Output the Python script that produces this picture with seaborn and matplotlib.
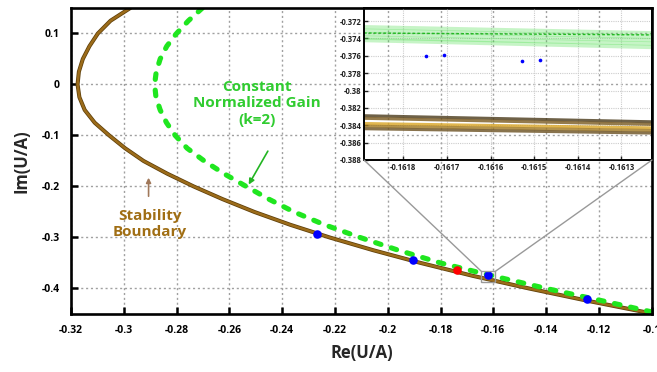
import matplotlib
matplotlib.use('Agg')
import matplotlib.pyplot as plt
import matplotlib.patheffects as pe
from matplotlib.patches import Rectangle, ConnectionPatch
import seaborn as sns

# stability boundary
boundary_im = [0.150, 0.125, 0.100, 0.075, 0.050, 0.025, 0.000, -0.025, -0.050, -0.075,
               -0.100, -0.125, -0.150, -0.175, -0.200, -0.225, -0.250, -0.275, -0.300,
               -0.325, -0.350, -0.375, -0.400, -0.425, -0.449]
boundary_re = [-0.2975, -0.3050, -0.3098, -0.3130, -0.3155, -0.3170, -0.3175, -0.3168,
               -0.3148, -0.3110, -0.3055, -0.2995, -0.2925, -0.2835, -0.2735, -0.2625,
               -0.2505, -0.2370, -0.2220, -0.2055, -0.1875, -0.1680, -0.1465, -0.1235,
               -0.1000]

# constant normalized gain curve, k=2
gain_im = [0.150, 0.125, 0.100, 0.075, 0.050, 0.025, 0.000, -0.025, -0.050, -0.075,
           -0.100, -0.125, -0.150, -0.175, -0.200, -0.225, -0.250, -0.275, -0.300,
           -0.325, -0.350, -0.375, -0.400, -0.425, -0.446]
gain_re = [-0.2702, -0.2755, -0.2800, -0.2837, -0.2862, -0.2877, -0.2883, -0.2878,
           -0.2862, -0.2838, -0.2805, -0.2760, -0.2695, -0.2620, -0.2536, -0.2450,
           -0.2355, -0.2240, -0.2105, -0.1960, -0.1800, -0.1605, -0.1400, -0.1180,
           -0.1000]

blue_re = [-0.2268, -0.1906, -0.1619, -0.1245]
blue_im = [-0.294, -0.345, -0.3745, -0.420]
red_re = [-0.1736]
red_im = [-0.363]

# zoomed view
inset_re = [-0.16189, -0.16123]
inset_green_im = [[-0.3727, -0.3734], [-0.3731, -0.3738], [-0.3735, -0.3742],
                  [-0.3739, -0.3746], [-0.3742, -0.3750]]
inset_green_dash_im = [-0.37338, -0.3736]
inset_brown_im = [[-0.3829, -0.3836], [-0.3832, -0.3839], [-0.3838, -0.3843],
                  [-0.3841, -0.3846], [-0.3844, -0.3849]]
inset_brown_colors = ['#4a3a1a', '#7a5a20', '#d9a526', '#a07820', '#6b5020']
inset_blue_re = [-0.161749, -0.161706, -0.161529, -0.161487]
inset_blue_im = [-0.37599, -0.37587, -0.37660, -0.37652]

zoom_box_re = [-0.16453, -0.15925]
zoom_box_im = [-0.3882, -0.3665]

xticks = [-0.32, -0.30, -0.28, -0.26, -0.24, -0.22, -0.20, -0.18, -0.16, -0.14, -0.12, -0.10]
yticks = [0.1, 0.0, -0.1, -0.2, -0.3, -0.4]
inset_xticks = [-0.1618, -0.1617, -0.1616, -0.1615, -0.1614, -0.1613]
inset_yticks = [-0.372, -0.374, -0.376, -0.378, -0.380, -0.382, -0.384, -0.386, -0.388]

sns.set_theme(style='white')
plt.rcParams['font.family'] = ['Open Sans', 'DejaVu Sans']
plt.rcParams['font.weight'] = 'bold'

fig = plt.figure(figsize=(6.57, 3.72), dpi=100)
ax = fig.add_axes([0.108, 0.156, 0.884, 0.8226])

brown = '#9c6c1a'
green_line = '#1fe61f'

sns.lineplot(x=boundary_re, y=boundary_im, sort=False, estimator=None, ax=ax,
             color=brown, lw=1.8,
             path_effects=[pe.Stroke(linewidth=2.9, foreground='#5e3f0a'), pe.Normal()])
sns.lineplot(x=gain_re, y=gain_im, sort=False, estimator=None, ax=ax,
             color=green_line, lw=3.7, linestyle=(0, (1.1, 2.1)),
             dash_capstyle='round')
sns.scatterplot(x=blue_re, y=blue_im, ax=ax, color='#0000ff', s=38, linewidth=0, zorder=5)
sns.scatterplot(x=red_re, y=red_im, ax=ax, color='#ff0000', s=38, linewidth=0, zorder=5)

ax.set_xlim(-0.32, -0.10)
ax.set_ylim(-0.45, 0.15)
ax.set_xticks(xticks)
ax.set_xticklabels(['{:g}'.format(v) for v in xticks])
ax.set_yticks(yticks)
ax.set_yticklabels(['{:g}'.format(v) for v in yticks])
ax.tick_params(direction='in', length=5, width=1.8, labelsize=7.5, pad=8,
               bottom=True, left=True, colors='black')
for s in ax.spines.values():
    s.set_linewidth(1.9)
    s.set_color('black')
ax.grid(True, color='#a0a0a0', linestyle=(0, (1.5, 2)), linewidth=1)
ax.set_axisbelow(True)
ax.set_xlabel('Re(U/A)', fontsize=12, fontweight='bold', labelpad=6)
ax.set_ylabel('Im(U/A)', fontsize=12, fontweight='bold', labelpad=8)

# annotations
ax.text(-0.2494, -0.037, 'Constant\nNormalized Gain\n(k=2)', color='#30cc30',
        fontsize=11, fontweight='bold', ha='center', va='center', linespacing=1.2)
ax.annotate('', xy=(-0.2532, -0.201), xytext=(-0.2449, -0.126),
            arrowprops=dict(arrowstyle='-|>', color='#22b522', lw=1.2, mutation_scale=8))
ax.text(-0.2902, -0.274, 'Stability\nBoundary', color='#a06e14',
        fontsize=11, fontweight='bold', ha='center', va='center', linespacing=1.2)
ax.annotate('', xy=(-0.2906, -0.1773), xytext=(-0.2906, -0.2246),
            arrowprops=dict(arrowstyle='-|>', color='#a0785a', lw=1.2, mutation_scale=7))

# zoom box
ax.add_patch(Rectangle((zoom_box_re[0], zoom_box_im[0]),
                       zoom_box_re[1] - zoom_box_re[0], zoom_box_im[1] - zoom_box_im[0],
                       fill=False, edgecolor='#999999', lw=1, zorder=6))

# inset
axins = fig.add_axes([0.554, 0.5699, 0.4384, 0.4086])
axins.set_facecolor('none')
for im in inset_green_im:
    sns.lineplot(x=inset_re, y=im, ax=axins, color='#44dd44', lw=3, alpha=0.3)
sns.lineplot(x=inset_re, y=inset_green_dash_im, ax=axins, color='#22bb22', lw=1,
             linestyle=(0, (2, 1.5)))
for im, c in zip(inset_brown_im, inset_brown_colors):
    sns.lineplot(x=inset_re, y=im, ax=axins, color=c, lw=2.2, alpha=0.8)
sns.scatterplot(x=inset_blue_re, y=inset_blue_im, ax=axins, color='#0000ff', s=7,
                linewidth=0, zorder=5)
axins.set_xlim(inset_re)
axins.set_ylim(-0.388, -0.3705)
axins.set_xticks(inset_xticks)
axins.set_xticklabels(['{:g}'.format(v) for v in inset_xticks])
axins.set_yticks(inset_yticks)
axins.set_yticklabels(['{:g}'.format(v) for v in inset_yticks])
axins.tick_params(direction='in', length=3, width=1, labelsize=5.5, pad=2,
                  bottom=True, left=True, colors='#222222')
axins.grid(True, color='#cccccc', linestyle=(0, (1, 1)), linewidth=0.8)
for s in axins.spines.values():
    s.set_linewidth(1.4)
    s.set_color('black')

for corner, bx in [((0, 0), zoom_box_re[0]), ((1, 0), zoom_box_re[1])]:
    con = ConnectionPatch(xyA=corner, coordsA='axes fraction', axesA=axins,
                          xyB=(bx, zoom_box_im[1]), coordsB='data', axesB=ax,
                          color='#999999', lw=1)
    fig.add_artist(con)

fig.savefig('out.png', dpi=100)
